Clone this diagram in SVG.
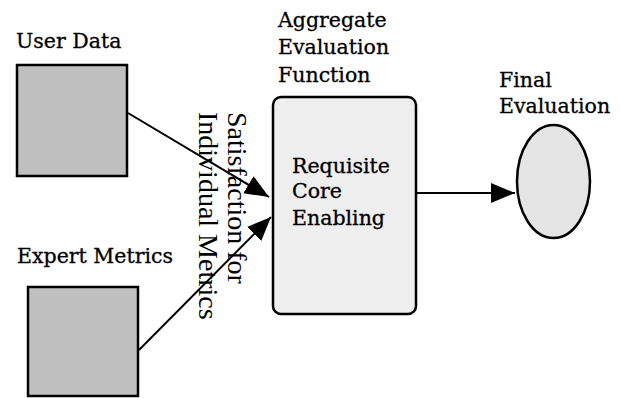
<svg xmlns="http://www.w3.org/2000/svg" width="620" height="398" viewBox="0 0 620 398">
<style>
.lbl{font-family:"DejaVu Serif","Liberation Serif",serif;font-size:20.5px;fill:#000;stroke:#000;stroke-width:0.3}
.rot{font-family:"Liberation Serif","Times New Roman",serif;font-size:28px;fill:#000}
.box{fill:#c0c0c0;stroke:#000;stroke-width:2.5}
.edge{stroke:#000;stroke-width:2;fill:none;marker-end:url(#ah)}
</style>
<defs>
<marker id="ah" markerUnits="userSpaceOnUse" markerWidth="26" markerHeight="22" viewBox="0 -11 26 22" refX="24" refY="0" orient="auto">
<path d="M0,-10 L24,0 L0,10 z" fill="#000"/>
</marker>
</defs>
<rect width="620" height="398" fill="#fff"/>
<g id="user-data">
<rect class="box" x="17" y="65" width="110" height="111"/>
<text class="lbl" x="16" y="48">User Data</text>
</g>
<g id="expert-metrics">
<rect class="box" x="28" y="287" width="110" height="109"/>
<text class="lbl" x="17" y="263">Expert Metrics</text>
</g>
<g id="aggregate">
<rect x="273" y="97" width="143" height="217" rx="8" fill="#eeeeee" stroke="#000" stroke-width="2.5"/>
<text class="lbl" x="278" y="27">Aggregate<tspan x="278" y="54">Evaluation</tspan><tspan x="278" y="82">Function</tspan></text>
<text class="lbl" x="292" y="173">Requisite<tspan x="292" y="198">Core</tspan><tspan x="292" y="225">Enabling</tspan></text>
</g>
<g id="final">
<ellipse cx="553.5" cy="181.5" rx="36.5" ry="56.5" fill="#e4e4e4" stroke="#000" stroke-width="2.5"/>
<text class="lbl" x="499" y="87">Final<tspan x="499" y="113">Evaluation</tspan></text>
</g>
<g id="connectors">
<line class="edge" x1="128" y1="113" x2="269" y2="197"/>
<line class="edge" x1="139" y1="350" x2="271" y2="217"/>
<line class="edge" x1="417" y1="193" x2="515" y2="193"/>
<text class="rot" transform="translate(228,112) rotate(90)">Satisfaction for<tspan x="0" dy="29">Individual Metrics</tspan></text>
</g>
</svg>
